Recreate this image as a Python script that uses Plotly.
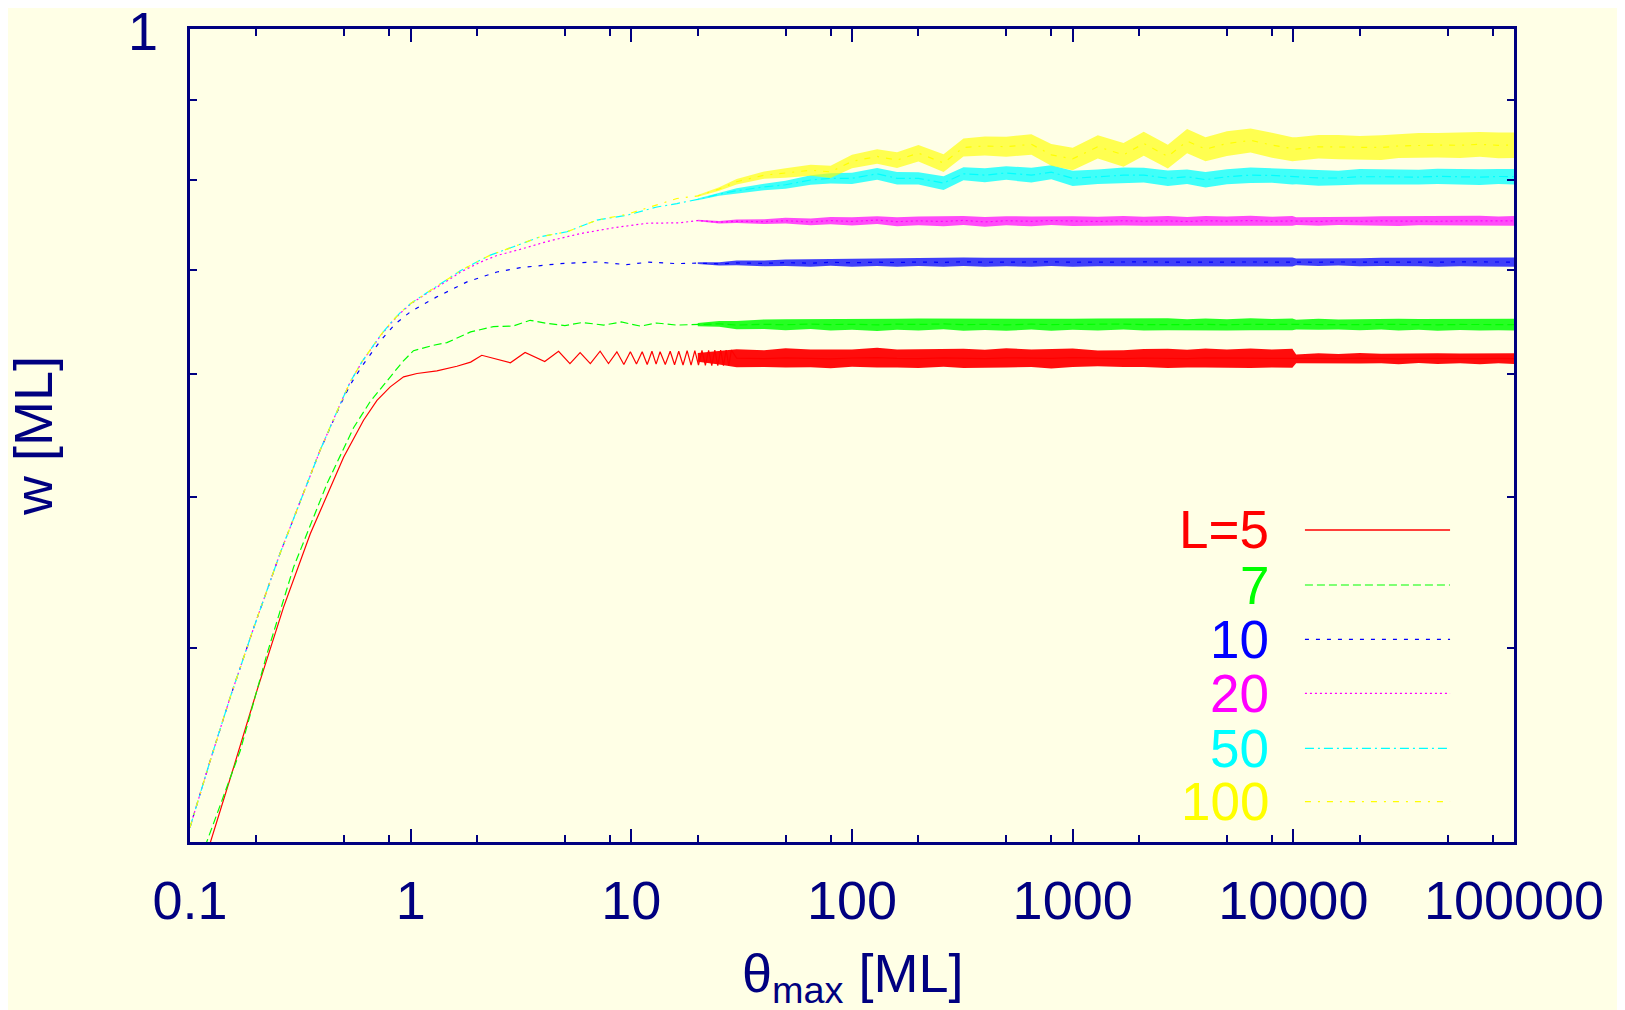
import plotly.graph_objects as go

# ---- values ----
# early (smooth / oscillating) part of each curve
theta_L5 = [0.115, 0.1236, 0.1576, 0.2012, 0.2655, 0.3508, 0.4966, 0.6116, 0.7036, 0.808, 0.929, 1.068, 1.315, 1.62, 1.87,
            2.1, 2.83, 3.3, 4.05, 4.68, 5.27, 5.86, 6.52, 7.22, 7.88, 8.6, 9.25, 9.9, 10.55, 11.2, 11.8, 12.4, 12.95, 13.5, 14.25,
            15.0, 15.7, 16.4, 17.15, 17.9, 18.65, 19.4, 20.15, 20.9, 21.65, 22.4, 23.15, 23.9, 24.65, 25.4, 26.15, 26.9, 27.65, 28.4]
w_L5 = [0.290, 0.300, 0.335, 0.3755, 0.4248, 0.4735, 0.5303, 0.5602, 0.577, 0.5886, 0.5974, 0.6004, 0.6027, 0.6069, 0.6106,
        0.6168, 0.6100, 0.6193, 0.6112, 0.6205, 0.6093, 0.6193, 0.6093, 0.6205, 0.6093, 0.6200, 0.6084, 0.6200, 0.6088, 0.6200, 0.6085, 0.6205, 0.6088, 0.6200, 0.6085,
        0.6205, 0.6082, 0.6205, 0.6080, 0.6210, 0.6078, 0.6210, 0.6078, 0.6212, 0.6076, 0.6212, 0.6075, 0.6215, 0.6075, 0.6215, 0.6074, 0.6215, 0.6074, 0.6216]

theta_L7 = [0.112, 0.119, 0.169, 0.2234, 0.2947, 0.4176, 0.551, 0.656, 0.808, 0.92, 1.03, 1.27, 1.46,
            1.87, 2.37, 2.9, 3.48, 4.15, 5.0, 6.0, 7.5, 9.0, 11.0, 13.0, 16.0]
w_L7 = [0.293, 0.300, 0.3435, 0.3964, 0.4507, 0.510, 0.5540, 0.5760, 0.5974, 0.611, 0.621, 0.626, 0.6285,
        0.6385, 0.6436, 0.6440, 0.6496, 0.6466, 0.6445, 0.6475, 0.6450, 0.6480, 0.6440, 0.6470, 0.6450]

theta_L10 = [0.1, 0.1236, 0.1523, 0.1942, 0.2566, 0.316, 0.3895, 0.4797, 0.5326, 0.6017, 0.728,
             0.85, 1.0, 1.3, 1.8, 2.46, 3.14, 4.76, 6.98, 9.5, 12.0, 16.0]
w_L10 = [0.3066, 0.3386, 0.3719, 0.4118, 0.4604, 0.4973, 0.5362, 0.5730, 0.5905, 0.6070, 0.6300,
         0.6460, 0.6580, 0.6720, 0.6876, 0.6978, 0.7023, 0.7065, 0.7082, 0.7054, 0.7080, 0.7065]

theta_L20 = [0.1, 0.1236, 0.1523, 0.1942, 0.2566, 0.316, 0.3895, 0.4797, 0.5326, 0.6017, 0.728, 0.808, 0.897,
             1.0, 1.144, 1.46, 1.678, 2.067, 2.46, 3.13, 4.15, 5.87, 8.3, 11.8, 16.6]
w_L20 = [0.3066, 0.3386, 0.3719, 0.4118, 0.4604, 0.4973, 0.5362, 0.5740, 0.5930, 0.6108, 0.6345, 0.6460, 0.6565,
         0.6655, 0.6740, 0.6885, 0.6975, 0.7080, 0.7150, 0.7215, 0.7300, 0.7386, 0.7450, 0.7500, 0.7505]

theta_L50 = [0.1, 0.1236, 0.1523, 0.1942, 0.2566, 0.316, 0.3895, 0.4797, 0.5326, 0.6017, 0.728, 0.808, 0.897,
             1.0, 1.144, 1.46, 1.678, 2.067, 2.295, 2.926, 3.87, 5.11, 6.98, 9.55, 13.06, 16.1]
w_L50 = [0.3066, 0.3386, 0.3719, 0.4118, 0.4604, 0.4973, 0.5362, 0.5740, 0.5930, 0.6110, 0.6350, 0.6466, 0.6570,
         0.6660, 0.6745, 0.6893, 0.6990, 0.7101, 0.7154, 0.7244, 0.7352, 0.7406, 0.7535, 0.7590, 0.7683, 0.7722]

theta_L100 = theta_L50
w_L100 = [0.3066, 0.3386, 0.3719, 0.4118, 0.4604, 0.4973, 0.5362, 0.5740, 0.5930, 0.6110, 0.6350, 0.6466, 0.6570,
          0.6660, 0.6745, 0.6893, 0.6990, 0.7101, 0.7154, 0.7244, 0.7352, 0.7406, 0.7535, 0.7600, 0.7710, 0.7780]

# saturated, noisy tail: centre line and half-width of the noise band
theta_tail = [20, 25, 30, 40, 50, 65, 80, 100, 130, 160,
              200, 260, 320, 400, 500, 650, 800, 1000, 1300, 1700,
              2100, 2700, 3300, 4000, 5000, 6400, 8000, 9900, 10300, 13000,
              16000, 20000, 25000, 30000, 37000, 45000, 57000, 70000, 85000, 100000]

tail_L5 = [0.6150, 0.6145, 0.6142, 0.6138, 0.6145, 0.6140, 0.6136, 0.6143, 0.6147, 0.6140,
           0.6138, 0.6144, 0.6141, 0.6137, 0.6145, 0.6142, 0.6139, 0.6146, 0.6140, 0.6137,
           0.6143, 0.6141, 0.6138, 0.6144, 0.6140, 0.6142, 0.6139, 0.6141, 0.6135, 0.6140,
           0.6137, 0.6142, 0.6139, 0.6136, 0.6141, 0.6138, 0.6140, 0.6137, 0.6139, 0.6138]
spread_L5 = [0.0040, 0.0060, 0.0082, 0.0076, 0.0088, 0.0080, 0.0086, 0.0078, 0.0090, 0.0082,
             0.0086, 0.0079, 0.0088, 0.0082, 0.0087, 0.0080, 0.0090, 0.0084, 0.0072, 0.0076,
             0.0082, 0.0088, 0.0080, 0.0087, 0.0082, 0.0089, 0.0081, 0.0086, 0.0040, 0.0046,
             0.0042, 0.0048, 0.0044, 0.0050, 0.0043, 0.0048, 0.0045, 0.0050, 0.0044, 0.0048]

tail_L7 = [0.6455, 0.6462, 0.6450, 0.6458, 0.6453, 0.6460, 0.6455, 0.6458, 0.6452, 0.6459,
           0.6456, 0.6461, 0.6454, 0.6457, 0.6452, 0.6459, 0.6455, 0.6458, 0.6456, 0.6460,
           0.6454, 0.6458, 0.6455, 0.6457, 0.6453, 0.6458, 0.6456, 0.6457, 0.6455, 0.6458,
           0.6456, 0.6454, 0.6458, 0.6455, 0.6457, 0.6453, 0.6456, 0.6454, 0.6456, 0.6455]
spread_L7 = [0.0015, 0.0028, 0.0040, 0.0046, 0.0052, 0.0048, 0.0056, 0.0052, 0.0058, 0.0053,
             0.0057, 0.0051, 0.0058, 0.0054, 0.0056, 0.0052, 0.0058, 0.0053, 0.0057, 0.0052,
             0.0056, 0.0058, 0.0052, 0.0057, 0.0054, 0.0058, 0.0053, 0.0057, 0.0046, 0.0052,
             0.0048, 0.0054, 0.0050, 0.0056, 0.0052, 0.0057, 0.0053, 0.0056, 0.0054, 0.0057]

tail_L10 = [0.7070, 0.7062, 0.7072, 0.7068, 0.7075, 0.7070, 0.7078, 0.7074, 0.7080, 0.7076,
            0.7082, 0.7078, 0.7084, 0.7079, 0.7082, 0.7080, 0.7083, 0.7079, 0.7082, 0.7080,
            0.7083, 0.7081, 0.7079, 0.7083, 0.7081, 0.7082, 0.7080, 0.7081, 0.7083, 0.7079,
            0.7082, 0.7080, 0.7083, 0.7081, 0.7082, 0.7080, 0.7083, 0.7081, 0.7082, 0.7081]
spread_L10 = [0.0010, 0.0018, 0.0025, 0.0030, 0.0034, 0.0038, 0.0036, 0.0042, 0.0040, 0.0045,
              0.0043, 0.0047, 0.0044, 0.0048, 0.0045, 0.0047, 0.0044, 0.0048, 0.0045, 0.0047,
              0.0044, 0.0048, 0.0046, 0.0047, 0.0045, 0.0048, 0.0046, 0.0047, 0.0036, 0.0040,
              0.0038, 0.0042, 0.0044, 0.0047, 0.0045, 0.0048, 0.0046, 0.0047, 0.0045, 0.0048]

tail_L20 = [0.7530, 0.7512, 0.7522, 0.7518, 0.7528, 0.7515, 0.7530, 0.7520, 0.7535, 0.7518,
            0.7526, 0.7520, 0.7532, 0.7515, 0.7528, 0.7522, 0.7530, 0.7524, 0.7520, 0.7528,
            0.7522, 0.7526, 0.7520, 0.7528, 0.7524, 0.7530, 0.7522, 0.7526, 0.7524, 0.7520,
            0.7528, 0.7522, 0.7526, 0.7524, 0.7528, 0.7522, 0.7526, 0.7528, 0.7524, 0.7526]
spread_L20 = [0.0008, 0.0014, 0.0020, 0.0026, 0.0032, 0.0038, 0.0040, 0.0046, 0.0044, 0.0050,
              0.0048, 0.0054, 0.0050, 0.0055, 0.0051, 0.0054, 0.0050, 0.0055, 0.0052, 0.0054,
              0.0050, 0.0055, 0.0051, 0.0054, 0.0052, 0.0055, 0.0051, 0.0054, 0.0044, 0.0048,
              0.0046, 0.0050, 0.0052, 0.0055, 0.0051, 0.0054, 0.0052, 0.0055, 0.0052, 0.0055]

tail_L50 = [0.7770, 0.7830, 0.7870, 0.7915, 0.7940, 0.7996, 0.8016, 0.8016, 0.8070, 0.8016,
            0.8016, 0.7960, 0.8070, 0.8054, 0.8080, 0.8054, 0.8090, 0.8016, 0.8035, 0.8054,
            0.8054, 0.8016, 0.8035, 0.8000, 0.8035, 0.8054, 0.8050, 0.8035, 0.8035, 0.8020,
            0.8020, 0.8035, 0.8035, 0.8035, 0.8030, 0.8040, 0.8035, 0.8030, 0.8038, 0.8035]
spread_L50 = [0.0010, 0.0018, 0.0028, 0.0038, 0.0046, 0.0056, 0.0060, 0.0066, 0.0070, 0.0074,
              0.0072, 0.0080, 0.0078, 0.0084, 0.0082, 0.0088, 0.0084, 0.0090, 0.0086, 0.0092,
              0.0088, 0.0092, 0.0086, 0.0091, 0.0088, 0.0092, 0.0087, 0.0091, 0.0088, 0.0092,
              0.0086, 0.0091, 0.0088, 0.0092, 0.0087, 0.0091, 0.0089, 0.0093, 0.0090, 0.0093]

tail_L100 = [0.7810, 0.7890, 0.7976, 0.8054, 0.8080, 0.8113, 0.8093, 0.8220, 0.8280, 0.8236,
             0.8320, 0.8200, 0.8390, 0.8410, 0.8400, 0.8430, 0.8300, 0.8250, 0.8400, 0.8300,
             0.8440, 0.8280, 0.8470, 0.8370, 0.8440, 0.8480, 0.8420, 0.8370, 0.8370, 0.8400,
             0.8397, 0.8385, 0.8390, 0.8410, 0.8418, 0.8420, 0.8418, 0.8430, 0.8418, 0.8420]
spread_L100 = [0.0010, 0.0020, 0.0032, 0.0044, 0.0056, 0.0066, 0.0074, 0.0082, 0.0090, 0.0096,
               0.0102, 0.0108, 0.0112, 0.0118, 0.0124, 0.0128, 0.0134, 0.0138, 0.0144, 0.0146,
               0.0150, 0.0146, 0.0152, 0.0148, 0.0154, 0.0150, 0.0155, 0.0148, 0.0150, 0.0146,
               0.0150, 0.0148, 0.0154, 0.0150, 0.0156, 0.0152, 0.0158, 0.0155, 0.0160, 0.0158]

legend_labels = ["L=5", "7", "10", "20", "50", "100"]

x_tickvals = [0.1, 1, 10, 100, 1000, 10000, 100000]
x_ticktext = ["0.1", "1", "10", "100", "1000", "10000", "100000"]
x_minor = [0.2, 0.5, 0.8, 2, 5, 8, 20, 50, 80, 200, 500, 800, 2000, 5000, 8000, 20000, 50000, 80000]
y_minor = [0.4, 0.5, 0.6, 0.7, 0.8, 0.9]

# ---- styling ----
NAVY = "#000080"
BG = "#FFFFE6"
FONT = "Liberation Sans"

series = [
    (theta_L5, w_L5, tail_L5, spread_L5, "#FF0000", "rgba(255,0,0,0.95)", "solid"),
    (theta_L7, w_L7, tail_L7, spread_L7, "#00FF00", "rgba(0,255,0,0.85)", "8px,4px"),
    (theta_L10, w_L10, tail_L10, spread_L10, "#0000FF", "rgba(0,0,255,0.75)", "4px,7px"),
    (theta_L20, w_L20, tail_L20, spread_L20, "#FF00FF", "rgba(255,0,255,0.7)", "2px,3px"),
    (theta_L50, w_L50, tail_L50, spread_L50, "#00FFFF", "rgba(0,255,255,0.75)", "9px,4px,2px,4px"),
    (theta_L100, w_L100, tail_L100, spread_L100, "#FFFF00", "rgba(255,255,0,0.65)", "6px,7px,2px,7px"),
]

fig = go.Figure()

for th, w, tail, spread, col, fcol, dash in series:
    upper = [c + s for c, s in zip(tail, spread)]
    lower = [c - s for c, s in zip(tail, spread)]
    fig.add_trace(go.Scatter(x=theta_tail + theta_tail[::-1], y=upper + lower[::-1],
                             fill="toself", fillcolor=fcol, mode="lines",
                             line=dict(width=0), hoverinfo="skip", showlegend=False))
    xs = list(th) + [t for t in theta_tail if t > th[-1]]
    ys = list(w) + [v for t, v in zip(theta_tail, tail) if t > th[-1]]
    fig.add_trace(go.Scatter(x=xs, y=ys, mode="lines",
                             line=dict(color=col, width=1.2, dash=dash), showlegend=False))

# gnuplot-style key: coloured labels right-aligned, sample line to the right
key_y = [0.3838, 0.3161, 0.2493, 0.1829, 0.1152, 0.0496]
for lab, ky, (_, _, _, _, col, _, dash) in zip(legend_labels, key_y, series):
    fig.add_annotation(x=0.8165, y=ky, xref="paper", yref="paper", text=lab, showarrow=False,
                       xanchor="right", yanchor="middle", font=dict(family=FONT, size=53, color=col))
    fig.add_shape(type="line", xref="paper", yref="paper", x0=0.8421, x1=0.9517, y0=ky, y1=ky,
                  line=dict(color=col, width=1.5 if dash == "solid" else 1.2, dash=dash))

# y-axis top label "1"
fig.add_annotation(x=-0.0355, y=0.9975, xref="paper", yref="paper", text="1", showarrow=False,
                   xanchor="center", yanchor="middle", font=dict(family=FONT, size=54, color=NAVY))
fig.add_annotation(x=0.5, y=-0.166, xref="paper", yref="paper", showarrow=False,
                   text="θ<sub>max</sub> [ML]", xanchor="center", yanchor="middle",
                   font=dict(family=FONT, size=54, color=NAVY))
fig.add_annotation(x=-0.119, y=0.5, xref="paper", yref="paper", showarrow=False,
                   text="w [ML]", textangle=-90, xanchor="center", yanchor="middle",
                   font=dict(family=FONT, size=54, color=NAVY))

fig.update_xaxes(type="log", range=[-1, 5], showline=True, linecolor=NAVY, linewidth=2.5,
                 mirror="ticks", ticks="inside", ticklen=13, tickwidth=2, tickcolor=NAVY,
                 tickmode="array", tickvals=x_tickvals, ticktext=x_ticktext,
                 tickfont=dict(family=FONT, size=54, color=NAVY), ticklabelstandoff=9,
                 showgrid=False, zeroline=False,
                 minor=dict(tickmode="array", tickvals=x_minor, ticks="inside", ticklen=7,
                            tickwidth=2, tickcolor=NAVY, showgrid=False))
fig.update_yaxes(type="log", range=[-0.5229, 0], showline=True, linecolor=NAVY, linewidth=2.5,
                 mirror="ticks", ticks="inside", ticklen=7, tickwidth=2, tickcolor=NAVY,
                 tickmode="array", tickvals=[1], ticktext=[""], showticklabels=False,
                 showgrid=False, zeroline=False,
                 minor=dict(tickmode="array", tickvals=y_minor, ticks="inside", ticklen=7,
                            tickwidth=2, tickcolor=NAVY, showgrid=False))

# page body has an 8px margin; the figure reaches the window's right and bottom edges
fig.update_layout(width=1617, height=1002, margin=dict(l=182, r=111, t=21, b=168),
                  paper_bgcolor=BG, plot_bgcolor=BG, showlegend=False)

fig.write_html("out.html")
